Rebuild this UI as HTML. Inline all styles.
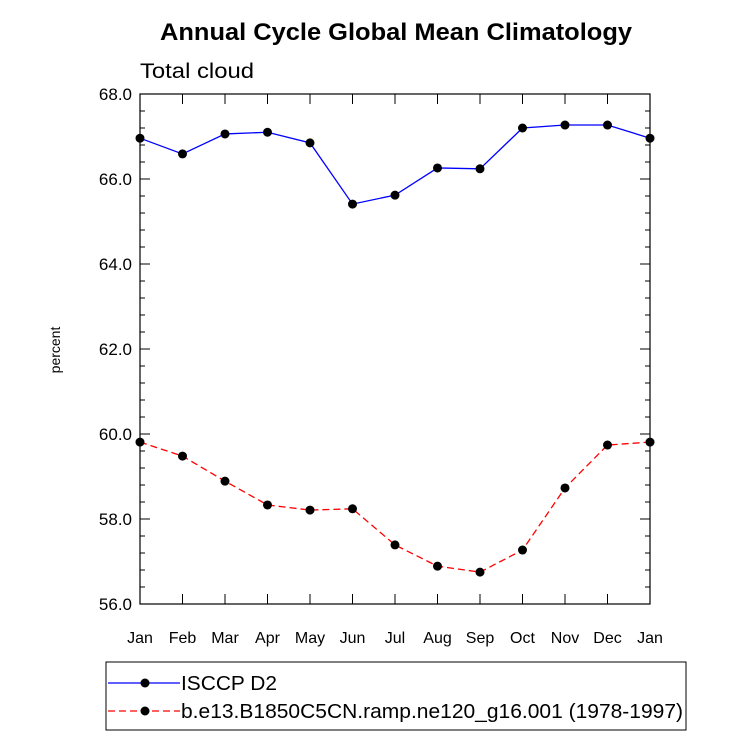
<!DOCTYPE html>
<html><head><meta charset="utf-8"><style>
body{margin:0;background:#fff}
svg text{font-family:"Liberation Sans",sans-serif}
</style></head><body>
<svg id="c" width="733" height="737">
<text x="160" y="40" textLength="472" lengthAdjust="spacingAndGlyphs" font-size="24" font-weight="bold">Annual Cycle Global Mean Climatology</text>
<text x="140" y="78" textLength="114" lengthAdjust="spacingAndGlyphs" font-size="21">Total cloud</text>
<text transform="translate(60,350) rotate(-90)" text-anchor="middle" font-size="14">percent</text>
<g id="g"></g>
<rect x="106" y="662" width="580" height="68" fill="none" stroke="#000" stroke-width="1"/>
<line x1="108" y1="683" x2="180" y2="683" stroke="#00f" stroke-width="1.3"/>
<circle cx="145" cy="683" r="4.5" fill="#000"/>
<text x="181" y="690" textLength="96" lengthAdjust="spacingAndGlyphs" font-size="20">ISCCP D2</text>
<line x1="108" y1="711" x2="180" y2="711" stroke="#f00" stroke-width="1.3" stroke-dasharray="7,4"/>
<circle cx="145" cy="711" r="4.5" fill="#000"/>
<text x="181" y="718" textLength="502" lengthAdjust="spacingAndGlyphs" font-size="20">b.e13.B1850C5CN.ramp.ne120_g16.001 (1978-1997)</text>
</svg>
<script>
const months=["Jan","Feb","Mar","Apr","May","Jun","Jul","Aug","Sep","Oct","Nov","Dec","Jan"];
const isccp=[66.96,66.59,67.06,67.10,66.85,65.41,65.62,66.26,66.24,67.20,67.27,67.27,66.96];
const model=[59.81,59.48,58.89,58.33,58.21,58.24,57.39,56.89,56.75,57.27,58.73,59.74,59.81];
const yTicks=[56,58,60,62,64,66,68];
const L=140,R=650,T=94,B=604,ymin=56,ymax=68;
const xs=i=>L+(R-L)*i/(months.length-1);
const ys=v=>B-(v-ymin)/(ymax-ymin)*(B-T);
const g=document.getElementById('g');const NS="http://www.w3.org/2000/svg";
function mk(t,a){const e=document.createElementNS(NS,t);for(const k in a)e.setAttribute(k,a[k]);g.appendChild(e);return e;}
let f=mk('rect',{x:L,y:T,width:R-L,height:B-T,fill:'none',stroke:'#000','stroke-width':1.2});


for(let v=ymin;v<=ymax+1e-6;v+=0.4){const maj=Math.abs(v/2-Math.round(v/2))<1e-6;const len=maj?10:5;
 mk('line',{x1:L,x2:L+len,y1:ys(v),y2:ys(v),stroke:'#000'});mk('line',{x1:R,x2:R-len,y1:ys(v),y2:ys(v),stroke:'#000'});}
yTicks.forEach(v=>{const t=mk('text',{x:L-8,y:ys(v)+6,'text-anchor':'end','font-size':17});t.textContent=v.toFixed(1);
 
 });
months.forEach((m,i)=>{const x=xs(i);mk('line',{x1:x,x2:x,y1:B,y2:B-10,stroke:'#000'});mk('line',{x1:x,x2:x,y1:T,y2:T+10,stroke:'#000'});
 const t=mk('text',{x:x,y:B+39,'text-anchor':'middle','font-size':16});t.textContent=m;
 
 });
function series(d,col,dash,name){const p=mk('polyline',{points:d.map((v,i)=>xs(i)+','+ys(v)).join(' '),fill:'none',stroke:col,'stroke-width':1.3,'stroke-dasharray':dash});
 
 
 d.forEach((v,i)=>{const c=mk('circle',{cx:xs(i),cy:ys(v),r:4.5,fill:'#000'});
  
  });}
series(isccp,'#00f','none','isccp');
series(model,'#f00','7,4','model');
</script>
</body></html>
